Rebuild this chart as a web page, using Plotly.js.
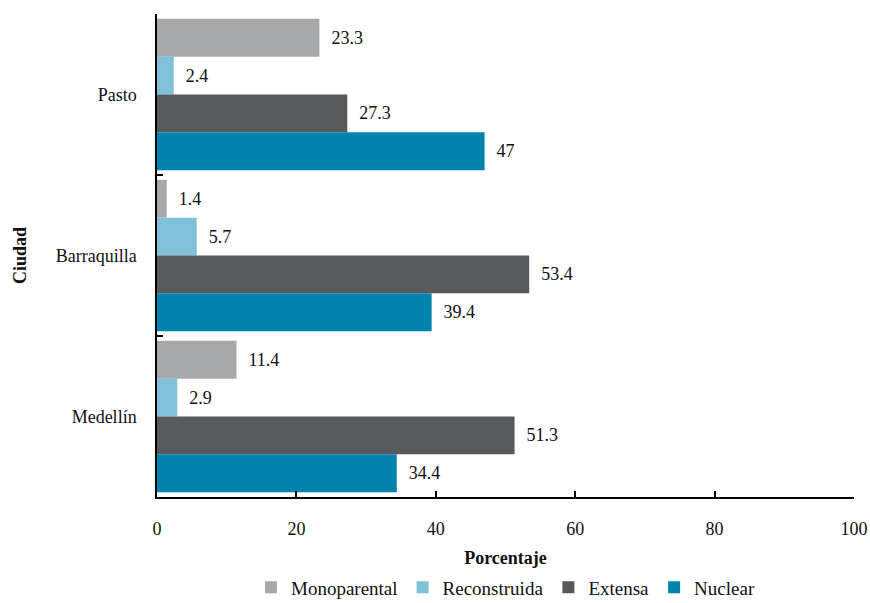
<!DOCTYPE html>
<html><head><meta charset="utf-8">
<script src="https://cdn.plot.ly/plotly-3.0.1.min.js"></script>
<style>body{margin:0;background:#fff}#chart{width:870px;height:603px}</style>
</head><body><div id="chart"></div>
<script>
const ciudades = ['Pasto', 'Barraquilla', 'Medellín'];
const series = ['Monoparental', 'Reconstruida', 'Extensa', 'Nuclear'];
const monoparental = [23.3, 1.4, 11.4];
const reconstruida = [2.4, 5.7, 2.9];
const extensa = [27.3, 53.4, 51.3];
const nuclear = [47, 39.4, 34.4];
const xTicks = [0, 20, 40, 60, 80, 100];

const values = [monoparental, reconstruida, extensa, nuclear];
const colors = ['#A7A8AB', '#7FC1D6', '#58595B', '#0083AD'];
const fontFam = 'Liberation Serif, DejaVu Serif, serif';

const traces = series.map((name, i) => ({
  type: 'bar', orientation: 'h', name: name,
  y: ciudades, x: values[i],
  marker: {color: colors[i]},
  text: values[i].map(v => '\u00a0\u00a0' + v),
  textposition: 'outside',
  textfont: {family: fontFam, size: 18, color: '#111'},
  cliponaxis: false,
  hoverinfo: 'x+name'
}));

const layout = {
  width: 870, height: 603,
  margin: {l: 157, r: 16, t: 14, b: 106, autoexpand: false},
  barmode: 'group', bargap: 0.06, bargroupgap: 0,
  paper_bgcolor: '#fff', plot_bgcolor: '#fff',
  font: {family: fontFam, size: 18, color: '#111'},
  xaxis: {
    range: [0, 100], tickvals: xTicks, ticks: 'inside', ticklen: 6, tickwidth: 1.5,
    tickcolor: '#000', showline: true, linecolor: '#000', linewidth: 1.5,
    showgrid: false, zeroline: false, ticklabelstandoff: 15, automargin: false,
    tickfont: {family: fontFam, size: 18},
    title: {text: '<b>Porcentaje</b>', font: {family: fontFam, size: 18}, standoff: 13}
  },
  yaxis: {
    autorange: 'reversed', type: 'category', tickson: 'boundaries',
    ticks: 'inside', ticklen: 6, tickwidth: 1.5, tickcolor: '#000', automargin: false,
    showline: true, linecolor: '#000', linewidth: 1.5, showgrid: false, zeroline: false,
    ticklabelstandoff: 15, tickfont: {family: fontFam, size: 18},
    title: {text: '<b>Ciudad</b>', font: {family: fontFam, size: 18}, standoff: 24}
  },
  showlegend: true,
  legend: {orientation: 'h', x: 0.5, xanchor: 'center', y: -0.148, yanchor: 'top',
    font: {family: fontFam, size: 19, color: '#111'}, itemsizing: 'constant', itemwidth: 30,
    traceorder: 'normal'}
};

Plotly.newPlot('chart', traces, layout, {displayModeBar: false});
</script></body></html>
